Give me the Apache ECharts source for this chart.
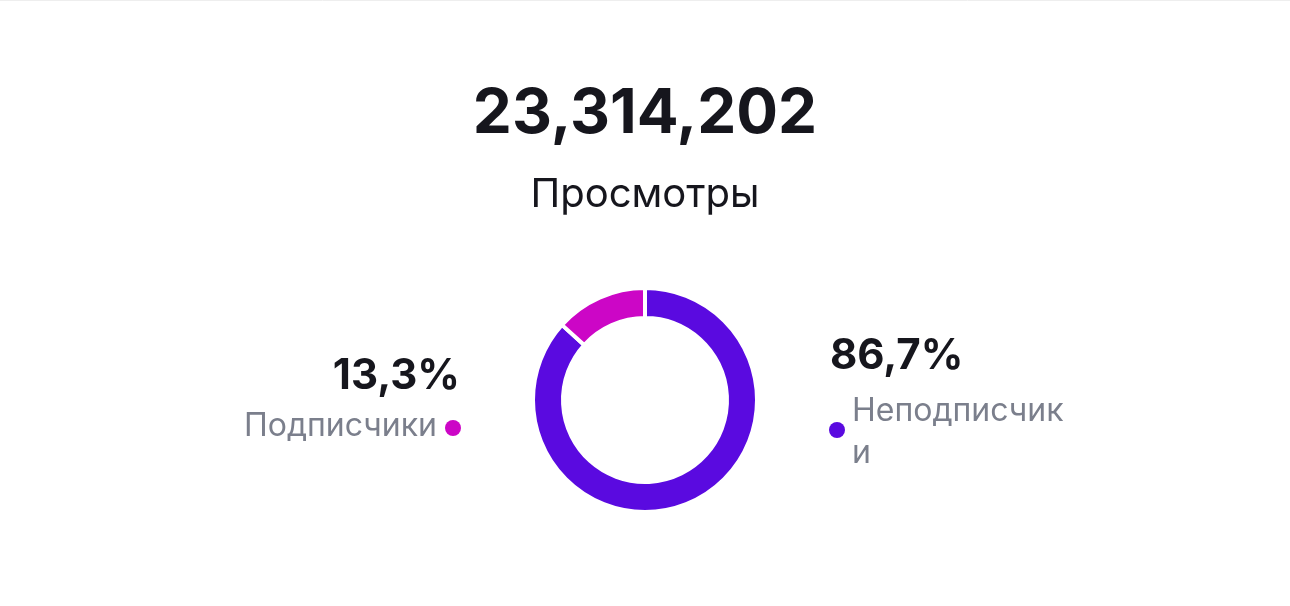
<!DOCTYPE html>
<html style="height: 100%">
<head>
<meta charset="utf-8">
<title>Просмотры</title>
</head>
<body style="height: 100%; margin: 0; background: #fff">
<div id="container" style="width: 1290px; height: 606px"></div>
<script src="https://cdn.jsdelivr.net/npm/echarts@6/dist/echarts.min.js"></script>
<script type="text/javascript">
var total = '23,314,202';
var totalLabel = 'Просмотры';
var names = ['Неподписчики', 'Подписчики'];
var values = [86.7, 13.3];
var colors = ['#5a0ae0', '#cc06c6'];

var font = '"Inter", "Noto Sans", sans-serif';
var myChart = echarts.init(document.getElementById('container'));

function pct(v) {
    return v.toFixed(1).replace('.', ',') + '%';
}

var option = {
    backgroundColor: '#fff',
    title: {
        text: total,
        subtext: totalLabel,
        left: 'center',
        top: 78,
        itemGap: 30,
        textStyle: { fontFamily: font, fontSize: 62, fontWeight: 'bold', color: '#16161d' },
        subtextStyle: { fontFamily: font, fontSize: 40, color: '#16161d' }
    },
    graphic: [
        { type: 'line', shape: { x1: 0, y1: 0.5, x2: 1290, y2: 0.5 }, style: { stroke: '#eeeeee', lineWidth: 1 } },
        // left: Подписчики
        { type: 'text', left: null, right: 1290 - 460, top: 355, style: { text: pct(values[1]), font: 'bold 42px ' + font, fill: '#16161d' } },
        { type: 'text', right: 1290 - 437, top: 410, style: { text: names[1], font: '32px ' + font, fill: '#7b7f8c' } },
        { type: 'circle', shape: { cx: 453, cy: 428, r: 8 }, style: { fill: colors[1] } },
        // right: Неподписчики
        { type: 'text', left: 830, top: 335, style: { text: pct(values[0]), font: 'bold 42px ' + font, fill: '#16161d' } },
        { type: 'circle', shape: { cx: 837, cy: 430, r: 8 }, style: { fill: colors[0] } },
        { type: 'text', left: 852, top: 390, style: { text: names[0].slice(0, -1) + '\n' + names[0].slice(-1), font: '32px ' + font, fill: '#7b7f8c', lineHeight: 42 } }
    ],
    series: [{
        type: 'pie',
        center: [645, 400],
        radius: [82, 112],
        startAngle: 90,
        clockwise: true,
        silent: true,
        label: { show: false },
        labelLine: { show: false },
        itemStyle: { borderColor: '#fff', borderWidth: 4 },
        data: names.map(function (n, i) {
            return { name: n, value: values[i], itemStyle: { color: colors[i] } };
        })
    }]
};
myChart.setOption(option);
</script>
</body>
</html>
